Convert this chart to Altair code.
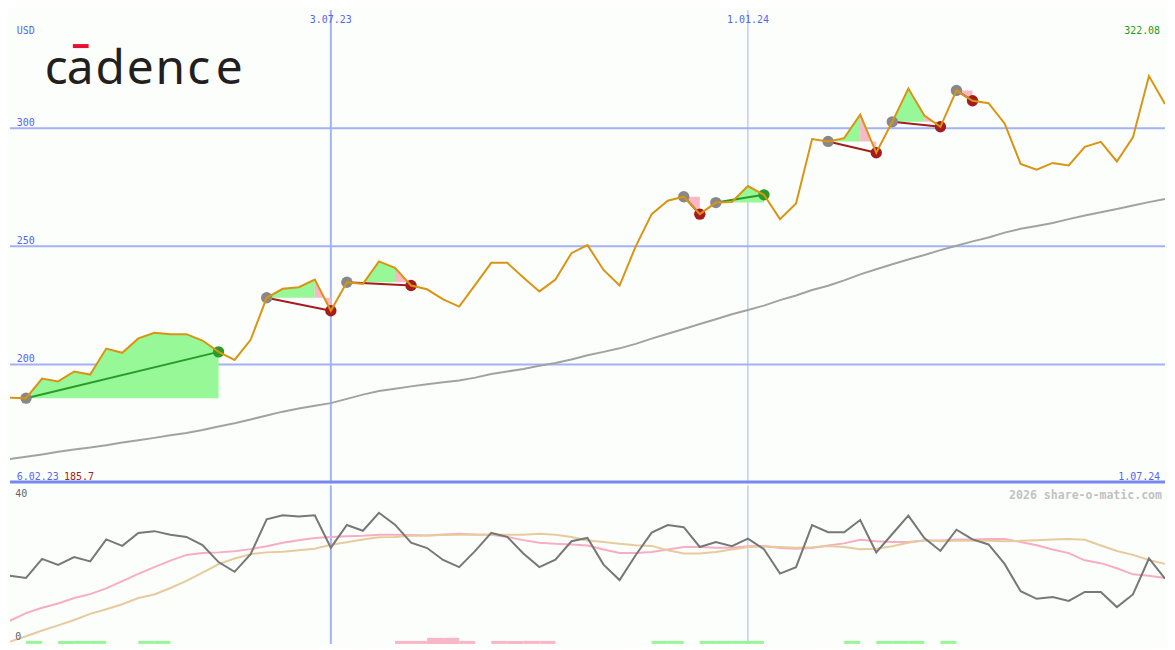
import altair as alt
import pandas as pd

# ------------------------------------------------------------------ data
START_DATE = "2023-02-13"
WEEKS = 73
PRICE = [185.9, 185.7, 194.0, 192.8, 197.0, 195.7, 206.7, 204.9, 211.0, 213.4,
         212.8, 212.8, 210.1, 205.3, 201.9, 210.4, 228.2, 232.0, 232.7, 235.9,
         222.7, 234.8, 234.1, 243.6, 240.9, 233.4, 231.8, 227.5, 224.5, 233.7,
         243.0, 243.0, 236.8, 230.9, 235.9, 247.1, 250.5, 240.0, 233.4, 249.9,
         263.6, 269.3, 271.0, 263.6, 268.5, 268.8, 275.5, 271.8, 261.5, 268.1,
         295.4, 294.4, 295.8, 305.8, 289.6, 302.7, 316.8, 305.4, 300.6, 316.0,
         311.6, 310.6, 302.0, 284.9, 282.4, 285.3, 284.2, 292.1, 294.2, 285.9,
         296.1, 322.08, 310.2]
SMA = [160.0, 160.9, 161.9, 163.0, 164.0, 164.8, 165.8, 166.9, 167.9, 168.9,
       170.0, 171.0, 172.2, 173.7, 175.1, 176.7, 178.4, 180.0, 181.3, 182.5,
       183.6, 185.4, 187.2, 188.7, 189.7, 190.7, 191.6, 192.4, 193.2, 194.4,
       195.9, 197.0, 198.1, 199.4, 200.6, 202.1, 203.9, 205.3, 206.8, 208.7,
       210.9, 213.0, 215.0, 217.1, 219.1, 221.2, 223.0, 224.9, 227.2, 229.2,
       231.5, 233.3, 235.6, 238.1, 240.3, 242.4, 244.4, 246.3, 248.4, 250.2,
       252.1, 253.7, 255.8, 257.4, 258.6, 259.9, 261.5, 263.0, 264.4, 265.8,
       267.3, 268.7, 270.0]
ADX = [18.4, 17.8, 23.1, 21.4, 23.6, 22.4, 28.5, 26.7, 30.3, 30.8,
       29.8, 29.2, 26.9, 22.2, 19.5, 24.4, 34.1, 35.2, 34.9, 35.2,
       26.2, 32.5, 30.9, 35.9, 32.6, 27.6, 26.1, 22.8, 20.8, 25.3,
       30.3, 29.2, 24.6, 20.8, 22.9, 28.0, 28.9, 21.5, 17.2, 24.1,
       30.4, 32.5, 31.9, 26.4, 27.8, 26.6, 28.7, 25.8, 19.0, 20.8,
       32.5, 30.5, 30.5, 33.9, 24.9, 30.0, 35.1, 28.9, 25.3, 31.2,
       28.5, 27.1, 21.7, 14.1, 12.0, 12.5, 11.4, 13.9, 13.9, 9.7,
       13.2, 23.2, 17.6]
DI_PINK = [5.9, 8.0, 9.5, 10.7, 12.2, 13.3, 14.9, 16.9, 18.9, 20.8,
           22.6, 24.2, 24.7, 24.9, 25.2, 25.8, 26.6, 27.6, 28.3, 28.9,
           29.2, 29.4, 29.5, 29.8, 29.8, 29.7, 29.6, 29.9, 30.1, 29.9,
           29.8, 29.2, 28.3, 27.6, 27.3, 27.1, 26.8, 25.7, 24.7, 24.7,
           25.0, 25.7, 26.4, 26.4, 26.2, 26.2, 26.6, 26.7, 26.1, 25.9,
           26.1, 26.8, 27.4, 28.4, 28.0, 27.8, 27.8, 28.2, 28.2, 28.5,
           28.5, 28.6, 28.6, 27.8, 26.9, 25.7, 24.7, 22.7, 21.9, 20.5,
           18.8, 18.4, 17.8]
DI_TAN = [0.1, 1.6, 3.2, 4.6, 6.1, 7.8, 9.1, 10.5, 12.2, 13.2,
          15.0, 17.0, 19.3, 21.6, 23.2, 24.4, 24.9, 25.1, 25.5, 25.9,
          27.0, 27.7, 28.5, 29.1, 29.2, 29.5, 29.6, 29.7, 29.8, 29.8,
          29.8, 29.8, 29.8, 30.1, 29.8, 29.2, 28.2, 27.8, 27.3, 26.9,
          26.7, 25.5, 24.6, 24.6, 25.0, 25.7, 26.4, 26.5, 26.4, 26.2,
          26.3, 26.7, 26.4, 25.8, 25.9, 26.6, 27.6, 28.3, 28.0, 28.1,
          28.2, 28.1, 28.0, 28.1, 28.3, 28.5, 28.6, 28.4, 26.8, 25.3,
          24.2, 22.8, 21.7]
TRADE_ENTRY = [1, 16, 21, 42, 44, 51, 55, 59]
TRADE_EXIT = [13, 20, 25, 43, 47, 54, 58, 60]
BAR_GREEN = [1, 3, 4, 5, 8, 9, 40, 41, 43, 44, 45, 46, 52, 54, 55, 56, 58]
BAR_PINK = [24, 25, 26, 27, 28, 30, 31, 32, 33]
BAR_PINK_STRONG = [26, 27]
PRICE_GRID = [200, 250, 300]
LOWER_TICKS = [0, 40]
MARK_DATES = ["2023-07-03", "2024-01-01"]
MARK_LABELS = ["3.07.23", "1.01.24"]
RANGE_START_LABEL = "6.02.23"
RANGE_END_LABEL = "1.07.24"
CURRENCY = "USD"
LOGO = "cadence"
WATERMARK = "2026 share-o-matic.com"

# ------------------------------------------------------------------ layout / style
W, H1, H2 = 1159, 475, 159
SX = W / 1175.0
SY = (H1 + H2) / 650.0
BG = "#fcfefc"
GRID_C = "#a3b2f5"
SEP_C = "#7888ee"
BLUE_T = "#5566ee"
ORANGE = "#da9412"
MA_C = "#a2a2a2"
GREEN_FILL = "#96f896"
PINK_FILL = "#f8b8c8"
GREEN_LINE = "#2a9a2a"
RED_LINE = "#a51c1c"
GREY_DOT = "#888888"
MONO = "DejaVu Sans Mono"
BAR_TOP = 0.3
BAR_TOP_STRONG = 1.15


def px(x):
    return round(x * SX, 1)


def py(y):
    return round(y * SY, 1)


DATES = [(pd.Timestamp(START_DATE) + pd.Timedelta(weeks=i)).strftime("%Y-%m-%d")
         for i in range(WEEKS + 1)]

df = pd.DataFrame({"date": DATES[:WEEKS], "price": PRICE, "sma": SMA,
                   "adx": ADX, "dip": DI_PINK, "dit": DI_TAN})

XS = alt.Scale(domain=[alt.DateTime(year=2023, month=2, date=13, utc=True),
                       alt.DateTime(year=2024, month=7, date=1, utc=True)], nice=False)
YMS = alt.Scale(domain=[149.6, 350.0], nice=False, zero=False)
YLS = alt.Scale(domain=[-0.54, 43.5], nice=False, zero=False)
X = alt.X("date:T", scale=XS, axis=None)
one = pd.DataFrame({"k": [0]})

# trades
area_rows, line_rows, entry_rows, exit_rows = [], [], [], []
for t, (a, b) in enumerate(zip(TRADE_ENTRY, TRADE_EXIT)):
    base_p = PRICE[a]
    win = PRICE[b] > PRICE[a]
    outcome = "win" if win else "loss"
    up_end = b if win else b - 1
    for i in range(a, up_end + 1):
        area_rows.append(dict(seg=f"{t}u", kind="up", date=DATES[i], price=PRICE[i], base=base_p))
    if not win:
        for i in (b - 1, b):
            area_rows.append(dict(seg=f"{t}d", kind="down", date=DATES[i], price=PRICE[i], base=base_p))
    for i in (a, b):
        line_rows.append(dict(trade=t, outcome=outcome, date=DATES[i], price=PRICE[i]))
    entry_rows.append(dict(date=DATES[a], price=PRICE[a]))
    exit_rows.append(dict(outcome=outcome, date=DATES[b], price=PRICE[b]))
areas = pd.DataFrame(area_rows)
tlines = pd.DataFrame(line_rows)
entries = pd.DataFrame(entry_rows)
exits = pd.DataFrame(exit_rows)

marks = pd.DataFrame({"date": MARK_DATES, "label": MARK_LABELS})

# ------------------------------------------------------------------ main panel
grid = alt.Chart(pd.DataFrame({"v": PRICE_GRID})).mark_rule(
    color=GRID_C, strokeWidth=2).encode(y=alt.Y("v:Q", scale=YMS, axis=None))
grid_lbl = alt.Chart(pd.DataFrame({"v": PRICE_GRID})).mark_text(
    align="left", baseline="alphabetic", dy=-2, font=MONO, fontSize=10, color=BLUE_T
).encode(x=alt.value(px(7)), y=alt.Y("v:Q", scale=YMS, axis=None), text=alt.Text("v:Q", format="d"))


def vline(d, w):
    return alt.Chart(pd.DataFrame({"date": [d]})).mark_rule(color=GRID_C, strokeWidth=w).encode(x=X)


vl_main = vline(MARK_DATES[0], 2) + vline(MARK_DATES[1], 1)
sep = alt.Chart(one).mark_rule(color=SEP_C, strokeWidth=3).encode(
    x=alt.value(0), x2=alt.value(W), y=alt.value(H1 - 1.5))

ma_line = alt.Chart(df).mark_line(color=MA_C, strokeWidth=2, clip=True).encode(
    x=X, y=alt.Y("sma:Q", scale=YMS, axis=None))

area_up = alt.Chart(areas).transform_filter(alt.datum.kind == "up").mark_area(
    color=GREEN_FILL, opacity=1).encode(
    x=X, y=alt.Y("price:Q", scale=YMS, axis=None), y2="base:Q", detail="seg:N")
area_dn = alt.Chart(areas).transform_filter(alt.datum.kind == "down").mark_area(
    color=PINK_FILL, opacity=1).encode(
    x=X, y=alt.Y("price:Q", scale=YMS, axis=None), y2="base:Q", detail="seg:N")

tl_win = alt.Chart(tlines).transform_filter(alt.datum.outcome == "win").mark_line(
    color=GREEN_LINE, strokeWidth=2).encode(x=X, y=alt.Y("price:Q", scale=YMS, axis=None), detail="trade:N")
tl_loss = alt.Chart(tlines).transform_filter(alt.datum.outcome == "loss").mark_line(
    color=RED_LINE, strokeWidth=2).encode(x=X, y=alt.Y("price:Q", scale=YMS, axis=None), detail="trade:N")

dot_entry = alt.Chart(entries).mark_circle(color=GREY_DOT, size=130, opacity=1).encode(
    x=X, y=alt.Y("price:Q", scale=YMS, axis=None))
dot_win = alt.Chart(exits).transform_filter(alt.datum.outcome == "win").mark_circle(
    color=GREEN_LINE, size=130, opacity=1).encode(x=X, y=alt.Y("price:Q", scale=YMS, axis=None))
dot_loss = alt.Chart(exits).transform_filter(alt.datum.outcome == "loss").mark_circle(
    color=RED_LINE, size=130, opacity=1).encode(x=X, y=alt.Y("price:Q", scale=YMS, axis=None))

price_line = alt.Chart(df).mark_line(color=ORANGE, strokeWidth=2, clip=True).encode(
    x=X, y=alt.Y("price:Q", scale=YMS, axis=None))

date_lbl = alt.Chart(marks).mark_text(
    align="center", baseline="alphabetic", font=MONO, fontSize=10, color=BLUE_T
).encode(x=X, y=alt.value(py(13)), text="label:N")


def txt(s, x, y, color, align="left", size=10, weight="normal", font=MONO):
    return alt.Chart(one).mark_text(
        text=s, align=align, baseline="alphabetic", font=font, fontSize=size,
        fontWeight=weight, color=color).encode(x=alt.value(x), y=alt.value(y))


corner = (
    txt(CURRENCY, px(7), py(25), BLUE_T)
    + txt(f"{max(PRICE):.2f}", px(1170), py(25), "#229a22", align="right")
    + txt(RANGE_START_LABEL, px(7), py(483.5), BLUE_T)
    + txt(f"{min(PRICE):.1f}", px(55), py(483.5), "#aa2020")
    + txt(RANGE_END_LABEL, px(1170), py(483.5), BLUE_T, align="right")
)

LOGO_X = [47, 71.5, 102, 132.5, 163, 192, 223]
logo = None
for ch, cx in zip(LOGO, LOGO_X):
    layer = txt(ch, px(cx), py(76), "#231f20", align="center", size=48,
                font="Noto Sans")
    logo = layer if logo is None else logo + layer
logo = logo + alt.Chart(one).mark_rule(color="#e3102f", strokeWidth=4).encode(
    x=alt.value(px(64)), x2=alt.value(px(80)), y=alt.value(py(37)))

main = alt.layer(
    grid, vl_main, ma_line, area_up, area_dn, tl_win, tl_loss,
    dot_entry, dot_win, dot_loss, price_line, grid_lbl, date_lbl, corner, logo, sep
).properties(width=W, height=H1)

# ------------------------------------------------------------------ lower panel
bars_g = pd.DataFrame({"date": [DATES[i] for i in BAR_GREEN], "end": [DATES[i + 1] for i in BAR_GREEN],
                       "top": BAR_TOP})
bars_p = pd.DataFrame({"date": [DATES[i] for i in BAR_PINK], "end": [DATES[i + 1] for i in BAR_PINK],
                       "top": BAR_TOP})
bars_ps = pd.DataFrame({"date": [DATES[i] for i in BAR_PINK_STRONG],
                        "end": [DATES[i + 1] for i in BAR_PINK_STRONG], "top": BAR_TOP_STRONG})


def bars(d, color):
    return alt.Chart(d).mark_rect(color=color).encode(
        x=X, x2="end:T", y=alt.Y("top:Q", scale=YLS, axis=None), y2=alt.value(H2))


vl_low = vline(MARK_DATES[0], 2) + vline(MARK_DATES[1], 1)
low_pink = alt.Chart(df).mark_line(color="#f7adc4", strokeWidth=2, clip=True).encode(
    x=X, y=alt.Y("dip:Q", scale=YLS, axis=None))
low_tan = alt.Chart(df).mark_line(color="#e6cb9c", strokeWidth=2, clip=True).encode(
    x=X, y=alt.Y("dit:Q", scale=YLS, axis=None))
low_adx = alt.Chart(df).mark_line(color="#777777", strokeWidth=2, clip=True).encode(
    x=X, y=alt.Y("adx:Q", scale=YLS, axis=None))
low_lbl = alt.Chart(pd.DataFrame({"v": LOWER_TICKS})).mark_text(
    align="left", baseline="alphabetic", dy=-1.5, font=MONO, fontSize=10, color="#666666"
).encode(x=alt.value(px(5.5)), y=alt.Y("v:Q", scale=YLS, axis=None), text=alt.Text("v:Q", format="d"))
wm = txt(WATERMARK, px(1172), py(500.7 - 487), "#c2c2c2", align="right", size=11.6, weight="bold")

lower = alt.layer(
    vl_low, bars(bars_g, "#98f598"), bars(bars_p, "#f8b6c8"), bars(bars_ps, "#f8b6c8"),
    low_pink, low_tan, low_adx, low_lbl, wm
).properties(width=W, height=H2)

chart = alt.vconcat(main, lower, spacing=0).properties(
    padding=0, background=BG
).configure_view(stroke=None)

chart.save("out.html", embed_options={"renderer": "svg", "actions": False})
